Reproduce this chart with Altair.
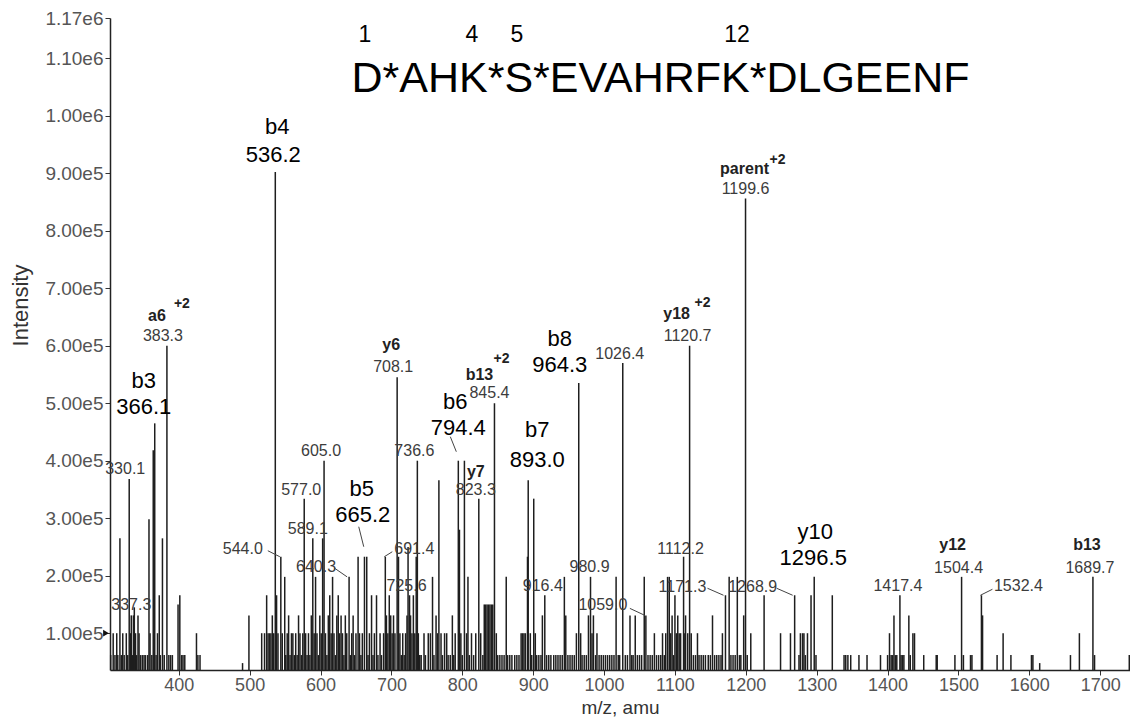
import altair as alt
import pandas as pd

# ---------------- data ----------------
# labelled peaks (m/z, intensity)
labeled_mz = [330.1, 337.3, 366.1, 383.3, 536.2, 544.0, 577.0, 589.1, 605.0, 640.3,
              665.2, 691.4, 708.1, 725.6, 736.6, 794.4, 823.3, 845.4, 893.0, 916.4,
              964.3, 980.9, 1026.4, 1059.0, 1112.2, 1120.7, 1171.3, 1199.6, 1268.9,
              1296.5, 1417.4, 1504.4, 1532.4, 1689.7]
labeled_int = [368000, 145000, 465000, 600000, 902000, 233000, 334000, 265000, 400000, 198000,
               233000, 233000, 545000, 166000, 400000, 400000, 334000, 500000, 366000, 166000,
               535000, 198000, 570000, 131000, 233000, 600000, 166000, 856000, 166000,
               198000, 166000, 198000, 166000, 198000]

# unlabelled peaks (m/z, intensity in thousands)
minor_mz_a = [304, 307.5, 310, 312.5, 314, 317, 319, 321, 323, 326, 328, 332, 333, 334.5, 336, 339,
              340.5, 342.5, 344, 346, 348.5, 351, 353, 356, 358, 359.5, 362, 364, 368, 370, 372.5,
              374, 377, 379.5, 386, 388.5, 391, 399, 401.5, 404, 406, 408.5, 425, 427, 430]
minor_int_a = [62, 100, 62, 100, 62, 265, 62, 100, 62, 100, 62, 100, 131, 62, 131, 100,
               62, 131, 100, 62, 62, 62, 62, 62, 298, 100, 62, 418, 62, 100, 166,
               62, 265, 62, 62, 62, 62, 150, 166, 62, 62, 62, 100, 62, 62]

minor_mz_b = [490, 499, 517, 521, 524, 526, 528, 530, 532, 534, 538, 540, 546, 549.5, 551, 553,
              555, 557, 559, 561, 563, 565, 567, 569, 571, 573, 575, 579, 581, 583, 585, 587,
              591, 593, 595, 597, 599, 601, 603, 607, 609, 611, 613, 615, 617, 619, 621, 623,
              625, 627, 629, 631, 633, 635, 637, 642, 644, 646, 648, 650, 653, 655, 657, 659,
              662, 667, 669, 672, 674, 676, 679, 681, 684, 686, 689, 693, 695, 697, 699, 701,
              703, 705, 710, 712, 714, 716, 718, 720, 722, 723.5, 727, 729, 731, 733, 735, 738,
              740, 742]
minor_int_b = [48, 131, 100, 100, 166, 100, 100, 100, 131, 100, 166, 100, 100, 198, 62, 100,
               131, 62, 100, 100, 62, 100, 62, 131, 100, 62, 100, 100, 62, 100, 62, 131,
               100, 198, 100, 62, 131, 100, 265, 100, 62, 131, 166, 100, 198, 100, 62, 131,
               166, 100, 131, 100, 62, 131, 100, 62, 100, 131, 62, 100, 233, 100, 62, 100,
               233, 62, 100, 166, 62, 100, 166, 62, 100, 62, 100, 131, 100, 166, 131, 100,
               131, 100, 233, 100, 62, 100, 62, 100, 131, 250, 131, 100, 166, 100, 233, 100,
               62, 62]

minor_mz_c = [746, 748, 752, 755, 758, 760, 763, 765, 767, 770, 772, 775, 778, 780, 783, 786,
              788, 790, 796, 798, 800, 803, 806, 808, 810, 813, 816, 819, 826, 829, 831, 833,
              835, 837, 839, 841, 843, 848, 850, 853, 856, 859, 862, 864, 867, 870, 874, 877,
              880, 883, 885, 887, 889, 892, 896, 898, 900.8, 903, 905, 908, 911, 913, 919, 922,
              925, 929, 932, 935, 938, 941, 944, 946, 949, 952, 955, 958, 961, 967, 969, 972,
              975, 978, 983, 985, 988, 990, 993, 996, 999]
minor_int_c = [100, 62, 100, 100, 198, 62, 131, 100, 366, 100, 62, 100, 100, 62, 62, 131,
               62, 100, 280, 100, 62, 400, 100, 198, 62, 100, 62, 100, 100, 62, 150, 150,
               150, 150, 150, 150, 150, 100, 62, 62, 62, 62, 198, 62, 62, 62, 62, 62,
               62, 100, 100, 100, 100, 233, 100, 62, 334, 100, 62, 62, 62, 131, 62, 62,
               62, 62, 62, 62, 62, 62, 198, 131, 62, 62, 62, 62, 100, 100, 62, 62,
               62, 131, 100, 131, 62, 100, 62, 62, 62]

minor_mz_d = [1002, 1005, 1008, 1011, 1014, 1017, 1020, 1022, 1030, 1033, 1036.6, 1039, 1041,
              1044, 1047, 1050, 1053, 1056.7, 1062, 1065, 1068, 1071, 1074, 1077, 1080, 1082.5,
              1085, 1087, 1089.6, 1092, 1094, 1096, 1098, 1100, 1102, 1104, 1106, 1108, 1113,
              1115, 1118, 1123, 1126, 1129, 1131.8, 1134, 1137, 1140, 1143, 1147, 1150, 1153,
              1156, 1159, 1162, 1165, 1167, 1176.5, 1179, 1182, 1185, 1188, 1191, 1193, 1197,
              1202, 1207, 1225.8, 1249, 1263, 1275, 1277, 1280, 1282, 1284, 1287, 1292, 1299,
              1322, 1338.6, 1341, 1344]
minor_int_d = [62, 62, 62, 62, 62, 198, 62, 62, 62, 62, 131, 62, 62,
               131, 62, 62, 62, 198, 62, 62, 62, 100, 62, 62, 62, 100,
               62, 100, 198, 198, 100, 131, 62, 166, 100, 131, 100, 100, 100,
               131, 100, 100, 62, 62, 100, 62, 62, 62, 62, 62, 62, 131,
               62, 62, 62, 62, 100, 198, 62, 62, 62, 198, 62, 62, 131,
               62, 100, 166, 100, 100, 62, 100, 100, 100, 62, 100, 166, 62,
               166, 62, 62, 62]

minor_mz_e = [1348, 1359.6, 1371, 1390, 1400, 1402.7, 1405, 1407, 1409, 1411, 1413, 1419, 1421,
              1423, 1430, 1432, 1435.7, 1438, 1451, 1468.6, 1470, 1495, 1507, 1517, 1519, 1534,
              1554.5, 1563, 1574, 1603, 1605, 1614.6, 1658, 1670.6, 1692, 1741]
minor_int_e = [62, 62, 62, 62, 62, 100, 62, 62, 131, 62, 62, 62, 62,
               62, 131, 62, 100, 100, 62, 62, 62, 62, 62, 62, 62, 131,
               62, 100, 62, 62, 62, 48, 62, 100, 62, 62]

sequence = "D*AHK*S*EVAHRFK*DLGEENF"
residue_numbers = ["1", "4", "5", "12"]
y_ticks = [100000, 200000, 300000, 400000, 500000, 600000, 700000, 800000, 900000,
           1000000, 1100000, 1170000]
x_ticks = list(range(400, 1800, 100))

# ---------------- layout ----------------
W, H = 1020, 652
X_MIN, X_MAX = 303, 1742
Y_MIN, Y_MAX = 36000, 1170000
PX_PER_MZ = W / (X_MAX - X_MIN)
INT_PER_PX = (Y_MAX - Y_MIN) / H
FONT = "Liberation Sans"

# (peak m/z, text or None for the m/z itself, style, dx px, dy px)
label_layout = [
    (366.1, "b3", "big", -11, -42), (366.1, "366.1", "big", -11, -16),
    (536.2, "b4", "big", 2, -45), (536.2, "536.2", "big", -2, -17),
    (665.2, "b5", "big", -5, -68), (665.2, "665.2", "big", -4, -42),
    (794.4, "b6", "big", -3, -59), (794.4, "794.4", "big", 0, -33),
    (893.0, "b7", "big", 9, -50), (893.0, "893.0", "big", 9, -20),
    (964.3, "b8", "big", -19, -44), (964.3, "964.3", "big", -19, -18),
    (1296.5, "y10", "big", 1, -45), (1296.5, "1296.5", "big", -1, -19),
    (330.1, None, "num", -4, -10), (337.3, None, "num", -3, -2), (383.3, None, "num", -4, -10),
    (544.0, None, "num", -38, -8), (577.0, None, "num", -3, -9), (589.1, None, "num", -5, -9),
    (605.0, None, "num", -3, -10), (640.3, None, "num", -33, -10), (691.4, None, "num", 29, -8),
    (708.1, None, "num", -4, -10), (725.6, None, "num", -3, -9), (736.6, None, "num", -3, -10),
    (823.3, None, "num", -3, -9), (845.4, None, "num", -5, -10), (916.4, None, "num", -2, -9),
    (980.9, None, "num", -1, -10), (1026.4, None, "num", -3, -9), (1059.0, None, "num", -43, -10),
    (1112.2, None, "num", -3, -8), (1120.7, None, "num", -2, -10), (1171.3, None, "num", -43, -8),
    (1199.6, None, "num", 0, -10), (1268.9, None, "num", -42, -8), (1417.4, None, "num", -2, -9),
    (1504.4, None, "num", -3, -9), (1532.4, None, "num", 37, -9), (1689.7, None, "num", -3, -9),
    (383.3, "a6", "ion", -10, -30), (708.1, "y6", "ion", -6, -32), (823.3, "y7", "ion", -3, -27),
    (845.4, "b13", "ion", -15, -28), (1120.7, "y18", "ion", -13, -32),
    (1199.6, "parent", "ion", -1, -30), (1504.4, "y12", "ion", -9, -32),
    (1689.7, "b13", "ion", -6, -32),
    (383.3, "+2", "sup", 15, -42), (845.4, "+2", "sup", 7, -44),
    (1120.7, "+2", "sup", 13, -43), (1199.6, "+2", "sup", 32, -39),
]

# (peak m/z, dx1, dy1, dx2, dy2) leader lines from label to peak
leader_layout = [
    (544.0, -13, -6, -1, 0), (640.3, -15, -9, -2, 0), (665.2, -8, -30, -3, -10),
    (691.4, 7, -5, -1, 0), (794.4, -8, -24, -2, -9), (1059.0, -16, -7, -1, 0),
    (1171.3, -18, -7, -2, 0), (1268.9, -18, -7, -2, 0), (1532.4, 11, -6, -1, 0),
]

seq_number_x = [255, 362, 407, 627]

# ---------------- tables ----------------
minor_mz = minor_mz_a + minor_mz_b + minor_mz_c + minor_mz_d + minor_mz_e
minor_int = [v * 1000 for v in minor_int_a + minor_int_b + minor_int_c + minor_int_d + minor_int_e]
peaks = pd.DataFrame({"mz": minor_mz + labeled_mz, "intensity": minor_int + labeled_int})

peak_int = dict(zip(labeled_mz, labeled_int))
lab_rows = []
for mz, text, kind, dx, dy in label_layout:
    lab_rows.append({
        "lx": mz + dx / PX_PER_MZ,
        "ly": peak_int[mz] - dy * INT_PER_PX,
        "text": text if text is not None else f"{mz:.1f}",
        "kind": kind,
    })
labels = pd.DataFrame(lab_rows)

lead_rows = []
for mz, dx1, dy1, dx2, dy2 in leader_layout:
    lead_rows.append({
        "x1": mz + dx1 / PX_PER_MZ, "y1": peak_int[mz] - dy1 * INT_PER_PX,
        "x2": mz + dx2 / PX_PER_MZ, "y2": peak_int[mz] - dy2 * INT_PER_PX,
    })
leaders = pd.DataFrame(lead_rows)

xscale = alt.Scale(domain=[X_MIN, X_MAX], nice=False, zero=False)
yscale = alt.Scale(domain=[Y_MIN, Y_MAX], nice=False, zero=False)

x_axis = alt.Axis(values=x_ticks, format="d", title="m/z, amu", grid=False,
                  labelFont=FONT, labelFontSize=18, labelColor="#555", labelPadding=1,
                  tickSize=5, tickColor="#333", domainColor="#222", domainWidth=1.5,
                  titleFont=FONT, titleFontSize=19, titleFontWeight="normal", titleColor="#333",
                  titleBaseline="alphabetic", titleY=43)
y_axis = alt.Axis(values=y_ticks, labelExpr="replace(format(datum.value, '.2e'), '+', '')",
                  title="Intensity", grid=False,
                  labelFont=FONT, labelFontSize=19, labelColor="#555", labelPadding=2,
                  tickSize=5, tickColor="#333", domainColor="#222", domainWidth=1.5,
                  titleFont=FONT, titleFontSize=22, titleFontWeight="normal", titleColor="#333",
                  titleX=-90, titleY=287, titleBaseline="middle")

bars = alt.Chart(peaks).mark_rule(color="#1e1e1e", strokeWidth=1.5).encode(
    x=alt.X("mz:Q", scale=xscale, axis=x_axis),
    y=alt.Y("intensity:Q", scale=yscale, axis=y_axis),
    y2=alt.datum(Y_MIN),
)

lead = alt.Chart(leaders).mark_rule(color="#444", strokeWidth=1).encode(
    x=alt.X("x1:Q", scale=xscale), y=alt.Y("y1:Q", scale=yscale),
    x2="x2:Q", y2="y2:Q",
)

def text_layer(kind, size, color, weight):
    return alt.Chart(labels).transform_filter(alt.datum.kind == kind).mark_text(
        font=FONT, fontSize=size, color=color, fontWeight=weight,
        align="center", baseline="middle",
    ).encode(
        x=alt.X("lx:Q", scale=xscale), y=alt.Y("ly:Q", scale=yscale), text="text:N"
    )

big = text_layer("big", 22, "#000", "normal")
num = text_layer("num", 16, "#3c3c3c", "normal")
ion = text_layer("ion", 16, "#222", "bold")
sup = text_layer("sup", 14, "#222", "bold")

seq = alt.Chart(pd.DataFrame({"t": [sequence]})).mark_text(
    font=FONT, fontSize=43, color="#000", align="center", baseline="alphabetic"
).encode(x=alt.value(550.5), y=alt.value(74), text="t:N")

seq_nums = alt.Chart(pd.DataFrame({"n": residue_numbers, "px": seq_number_x})).mark_text(
    font=FONT, fontSize=23, color="#000", align="center", baseline="alphabetic"
).encode(x=alt.X("px:Q", scale=None), y=alt.value(24), text="n:N")

marker = alt.Chart(pd.DataFrame({"v": [100000]})).mark_point(
    shape="triangle-right", filled=True, size=45, color="#111", opacity=1
).encode(x=alt.value(-4), y=alt.Y("v:Q", scale=yscale))

chart = alt.layer(bars, lead, big, num, ion, sup, seq, seq_nums, marker).properties(
    width=W, height=H,
    padding={"left": 102, "top": 10, "right": 0, "bottom": 47},
    autosize=alt.AutoSizeParams(type="none"),
    background="white",
).configure_view(stroke=None)

chart.save("out.html", embed_options={"renderer": "svg", "actions": False})
